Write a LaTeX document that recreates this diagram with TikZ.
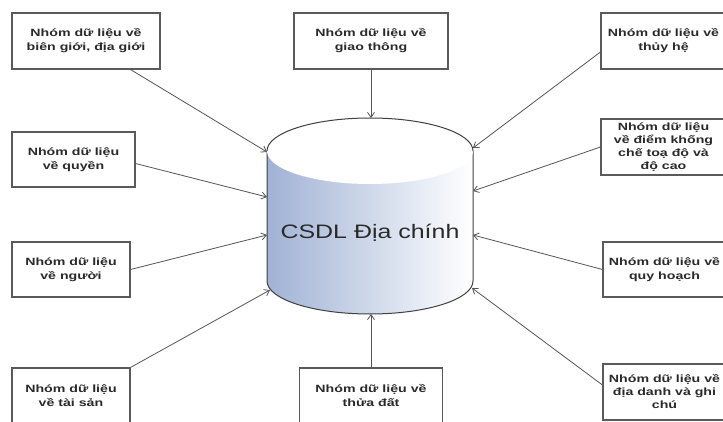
\documentclass[tikz,border=0pt]{standalone}
\usepackage{fontspec}
\setmainfont{Liberation Sans}
\newfontfamily\boxfont[FakeStretch=1.35]{Liberation Sans}
\newfontfamily\cylfont[FakeStretch=1.28]{Liberation Sans}
\usetikzlibrary{arrows.meta}
\definecolor{boxgray}{HTML}{5A5A5A}
\definecolor{linegray}{HTML}{555555}
\definecolor{txtgray}{HTML}{2A2A2A}
\definecolor{cylblue}{RGB}{160,178,213}
\definecolor{cyledge}{HTML}{404040}
\tikzset{
  grp/.style={draw=boxgray, line width=1.1pt, fill=white, align=center,
    font=\boxfont\bfseries\fontsize{10.5}{14}\selectfont, text=txtgray, inner sep=0pt},
  tight/.style={font=\boxfont\bfseries\fontsize{10.5}{13}\selectfont},
  link/.style={draw=linegray, line width=0.8pt, -{Straight Barb[length=5pt,width=7pt]}},
  cylline/.style={draw=cyledge, line width=1pt}
}
\begin{document}
\begin{tikzpicture}[x=1pt,y=1pt]
\clip (0,0) rectangle (723,421);
\fill[white] (0,0) rectangle (723,421);
% cylinder
\shade[left color=cylblue, right color=white]
  (267,270) -- (267,140) arc[start angle=180,end angle=360,x radius=103,y radius=33]
  -- (473,270) arc[start angle=0,end angle=180,x radius=103,y radius=33] -- cycle;
\draw[cylline] (267,270) -- (267,140) arc[start angle=180,end angle=360,x radius=103,y radius=33] -- (473,270);
\fill[white] (370,270) ellipse[x radius=103, y radius=33];
\draw[cylline] (473,270) arc[start angle=0,end angle=180,x radius=103,y radius=33];
\node[font=\cylfont\fontsize{19.5}{22}\selectfont, text=txtgray] (db) at (370,188) {CSDL Địa chính};
% arrow targets on the cylinder
\coordinate (t1) at (267,269);
\coordinate (t2) at (371,303);
\coordinate (t3) at (473,273);
\coordinate (t4) at (473,230);
\coordinate (t5) at (267,224);
\coordinate (t6) at (267,186);
\coordinate (t7) at (270,131);
\coordinate (t8) at (371,107);
\coordinate (t9) at (473,186);
\coordinate (t10) at (472,133);
% boxes
\node[grp, minimum width=148pt, minimum height=56pt] (b1) at (86,380) {Nhóm dữ liệu về\\biên giới, địa giới};
\node[grp, minimum width=154pt, minimum height=56pt] (b2) at (371,380) {Nhóm dữ liệu về\\giao thông};
\node[grp, minimum width=125pt, minimum height=56pt] (b3) at (663.5,380) {Nhóm dữ liệu về\\thủy hệ};
\node[grp, tight, minimum width=125pt, minimum height=56pt] (b4) at (663.5,274) {Nhóm dữ liệu\\về điểm khống\\chế toạ độ và\\độ cao};
\node[grp, minimum width=123pt, minimum height=55pt] (b5) at (73.5,261.5) {Nhóm dữ liệu\\về quyền};
\node[grp, minimum width=118pt, minimum height=55pt] (b6) at (71,151.5) {Nhóm dữ liệu\\về người};
\node[grp, minimum width=118pt, minimum height=56pt] (b7) at (71,25) {Nhóm dữ liệu\\về tài sản};
\node[grp, minimum width=143pt, minimum height=56pt] (b8) at (371,25) {Nhóm dữ liệu về\\thửa đất};
\node[grp, minimum width=123pt, minimum height=55pt] (b9) at (664.5,151.5) {Nhóm dữ liệu về\\quy hoạch};
\node[grp, tight, minimum width=123pt, minimum height=56pt] (b10) at (664.5,29) {Nhóm dữ liệu về\\địa danh và ghi\\chú};
% connectors
\draw[link] ([xshift=-30pt]b1.south east) -- (t1);
\draw[link] (b2.south) -- (t2);
\draw[link] ([yshift=-11pt]b3.west) -- (t3);
\draw[link] (b4.west) -- (t4);
\draw[link] ([yshift=-4pt]b5.east) -- (t5);
\draw[link] (b6.east) -- (t6);
\draw[link] (b7.north east) -- (t7);
\draw[link] (b8.north) -- (t8);
\draw[link] (b9.west) -- (t9);
\draw[link] ([yshift=7pt]b10.west) -- (t10);
\end{tikzpicture}
\end{document}
